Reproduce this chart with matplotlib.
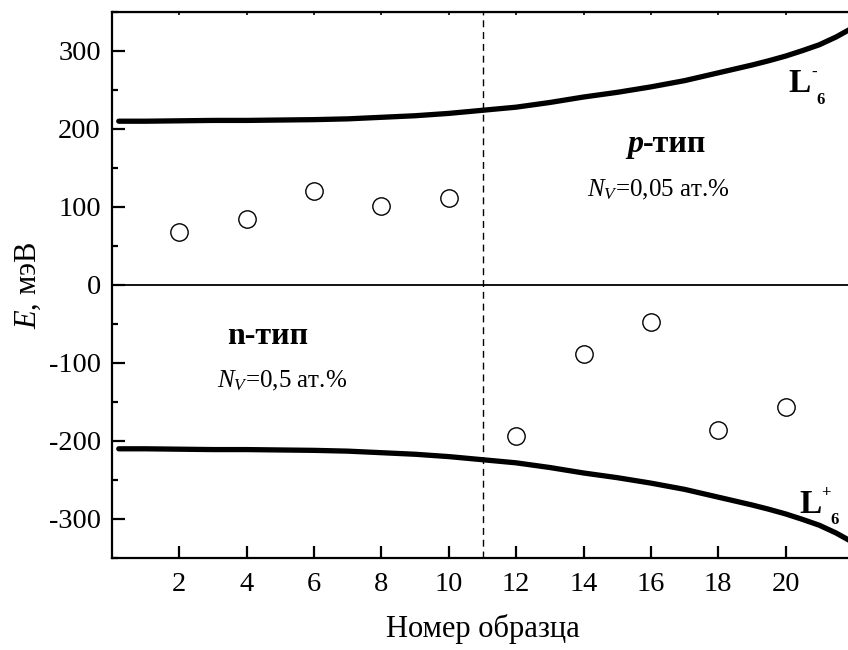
import numpy as np
import matplotlib
matplotlib.use('Agg')
import matplotlib.pyplot as plt
from matplotlib.ticker import MultipleLocator

plt.rcParams['font.family'] = 'Liberation Serif'
plt.rcParams['mathtext.fontset'] = 'custom'
plt.rcParams['mathtext.rm'] = 'Liberation Serif'
plt.rcParams['mathtext.it'] = 'Liberation Serif:italic'
plt.rcParams['mathtext.bf'] = 'Liberation Serif:bold'
plt.rcParams['axes.unicode_minus'] = False

# band edges L6- (upper) and L6+ (lower), meV
band_x = [0.2, 1, 2, 3, 4, 5, 6, 7, 8, 9, 10, 11, 12, 13, 14, 15, 16, 17, 18, 19,
          19.5, 20, 20.5, 21, 21.5, 22]
band_up = [210, 210, 210.5, 211, 211, 211.5, 212, 213, 215, 217, 220, 224, 228, 234, 241,
           247, 254, 262, 272, 282, 287.5, 293.5, 300.5, 308, 318, 330]
band_dn = [-v for v in band_up]

# measured levels per sample
sample_no = [2, 4, 6, 8, 10, 12, 14, 16, 18, 20]
level_E = [68, 84, 120, 101, 112, -193, -88, -47, -186, -156]

x_split = 11

fig = plt.figure(figsize=(8.48, 6.5), dpi=100)
ax = fig.add_axes([112/848, 92/650, 741/848, 546/650])

ax.plot(band_x, band_up, color='black', lw=3.8, solid_capstyle='round', solid_joinstyle='round')
ax.plot(band_x, band_dn, color='black', lw=3.8, solid_capstyle='round', solid_joinstyle='round')
ax.plot(sample_no, level_E, 'o', ms=12.5, mfc='white', mec='black', mew=1.0, ls='none')

ax.axhline(0, color='black', lw=1.3)
ax.axvline(x_split, color='black', lw=1.0, ls=(0, (5, 3.5)))

ax.set_xlim(0, 22)
ax.set_ylim(-350, 350)
ax.set_xticks(sample_no)
ax.yaxis.set_major_locator(MultipleLocator(100))
ax.yaxis.set_minor_locator(MultipleLocator(50))

for s in ax.spines.values():
    s.set_linewidth(1.6)
ax.tick_params(which='major', direction='in', length=9, width=1.6, labelsize=20.5)
ax.tick_params(axis='x', which='major', pad=10)
ax.tick_params(axis='y', which='major', pad=8)
ax.tick_params(which='minor', direction='in', length=4.5, width=1.6)
ax.tick_params(axis='x', which='minor', bottom=False)

top = ax.secondary_xaxis('top')
top.set_xticks(sample_no)
top.tick_params(direction='in', length=2, width=1.2, labeltop=False)

ax.set_xlabel('Номер образца', fontsize=22, labelpad=12)
ax.set_ylabel(r'$E$, мэВ', fontsize=22, labelpad=4)

# region captions
ax.text(15.77, 171, 'p', fontsize=23, fontweight='bold', style='italic', ha='right', va='baseline')
ax.text(15.77, 171, '-тип', fontsize=23, fontweight='bold', ha='left', va='baseline')
ax.text(14.11, 114, r'$N_V$=0,05 ат.%', fontsize=18, ha='left', va='baseline')
ax.text(3.42, -75, 'n-тип', fontsize=23, fontweight='bold', ha='left', va='baseline')
ax.text(3.13, -131, r'$N_V$=0,5 ат.%', fontsize=18, ha='left', va='baseline')

# band labels
for lx, ly, sign, dsx, d6x, d6y in [(20.07, 247, '-', 26, 28, -12), (20.40, -292, '+', 27, 31, -11)]:
    ax.text(lx, ly, 'L', fontsize=24, fontweight='bold', ha='left', va='baseline')
    ax.annotate(sign, (lx, ly), xytext=(dsx, 20), textcoords='offset pixels',
                fontsize=12, fontweight='bold', ha='center', va='center')
    ax.annotate('6', (lx, ly), xytext=(d6x, d6y), textcoords='offset pixels',
                fontsize=12, fontweight='bold', ha='left', va='baseline')

fig.savefig('out.png', dpi=100)
